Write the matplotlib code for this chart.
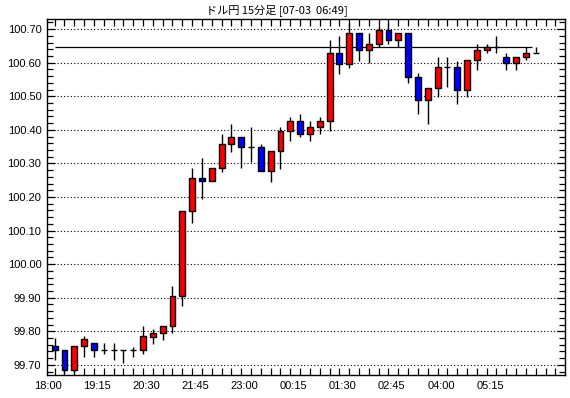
import matplotlib.pyplot as plt
from matplotlib.patches import Rectangle
from matplotlib.ticker import MultipleLocator, FixedLocator

plt.rcParams['font.family'] = ['Liberation Sans', 'Noto Sans CJK JP', 'DejaVu Sans']

# 15-minute candles, 18:00 -> 06:15
opens = [99.757, 99.745, 99.685, 99.756, 99.765, 99.745, 99.745, 99.745, 99.745, 99.744,
         99.784, 99.794, 99.815, 99.904, 100.157, 100.256, 100.247, 100.285, 100.357, 100.378,
         100.348, 100.348, 100.276, 100.336, 100.396, 100.425, 100.387, 100.407, 100.425, 100.628,
         100.597, 100.687, 100.637, 100.657, 100.696, 100.666, 100.687, 100.556, 100.488, 100.526,
         100.586, 100.586, 100.518, 100.607, 100.637, 100.648, 100.616, 100.598, 100.616, 100.628]
highs = [99.780, 99.745, 99.755, 99.786, 99.765, 99.765, 99.765, 99.745, 99.754, 99.816,
         99.806, 99.816, 99.935, 100.157, 100.286, 100.316, 100.285, 100.387, 100.417, 100.378,
         100.407, 100.357, 100.336, 100.407, 100.437, 100.447, 100.425, 100.437, 100.667, 100.679,
         100.719, 100.687, 100.687, 100.709, 100.717, 100.687, 100.687, 100.568, 100.526, 100.616,
         100.616, 100.606, 100.607, 100.657, 100.657, 100.679, 100.628, 100.616, 100.648, 100.648]
lows = [99.716, 99.677, 99.677, 99.725, 99.725, 99.734, 99.716, 99.705, 99.724, 99.734,
        99.763, 99.774, 99.795, 99.874, 100.124, 100.195, 100.247, 100.275, 100.335, 100.285,
        100.305, 100.276, 100.245, 100.284, 100.366, 100.378, 100.366, 100.387, 100.396, 100.567,
        100.585, 100.606, 100.598, 100.647, 100.657, 100.647, 100.538, 100.446, 100.416, 100.497,
        100.527, 100.476, 100.498, 100.577, 100.628, 100.628, 100.577, 100.577, 100.607, 100.628]
closes = [99.744, 99.685, 99.755, 99.777, 99.744, 99.745, 99.745, 99.745, 99.745, 99.786,
          99.794, 99.816, 99.904, 100.157, 100.256, 100.247, 100.285, 100.358, 100.378, 100.348,
          100.348, 100.276, 100.336, 100.396, 100.425, 100.387, 100.407, 100.425, 100.628, 100.597,
          100.687, 100.637, 100.657, 100.696, 100.666, 100.687, 100.556, 100.488, 100.526, 100.586,
          100.586, 100.518, 100.607, 100.637, 100.648, 100.648, 100.598, 100.616, 100.628, 100.628]
last_price = 100.646

time_labels = ["18:00", "19:15", "20:30", "21:45", "23:00", "00:15", "01:30", "02:45", "04:00", "05:15"]
label_pos = [0, 5, 10, 15, 20, 25, 30, 35, 40, 45]

fig = plt.figure(figsize=(5.7, 3.98), dpi=100)
ax = fig.add_axes([47 / 570, 1 - 375 / 398, 518 / 570, 356 / 398])

w = 0.6
for i in range(len(opens)):
    o, h, l, c = opens[i], highs[i], lows[i], closes[i]
    ax.vlines(i, l, h, color='black', lw=1.0, zorder=2)
    if abs(c - o) < 1e-6:
        ax.hlines(o, i - w / 2, i + w / 2, color='black', lw=1.0, zorder=3)
    else:
        col = 'red' if c > o else 'blue'
        ax.add_patch(Rectangle((i - w / 2, min(o, c)), w, abs(c - o),
                               facecolor=col, edgecolor='black', lw=1.0, zorder=3))

# current price line
ax.hlines(last_price, 0, 48.65, color='black', lw=0.9, zorder=1)

ax.set_xlim(-0.78, 51.98)
ax.set_ylim(99.670, 100.730)

ax.yaxis.set_major_locator(MultipleLocator(0.1))
ax.yaxis.set_minor_locator(MultipleLocator(0.02))
ax.yaxis.set_major_formatter(lambda v, p: f"{v:.2f}")
ax.grid(axis='y', which='major', color='black', linestyle=(0, (1, 2)), lw=0.8)

ax.xaxis.set_major_locator(FixedLocator([p - 0.65 for p in label_pos]))
ax.set_xticklabels(time_labels)
ax.xaxis.set_minor_locator(MultipleLocator(1))

ax.tick_params(axis='x', which='major', length=0, labelsize=8, pad=4)
ax.tick_params(axis='x', which='minor', direction='in', length=5, top=True, bottom=True, width=0.9)
ax.tick_params(axis='y', which='both', direction='in', left=True, right=True, width=0.9)
ax.tick_params(axis='y', which='major', length=6, labelsize=8, pad=4)
ax.tick_params(axis='y', which='minor', length=4)

for s in ax.spines.values():
    s.set_linewidth(1.0)

fig.text(277 / 570, 1 - 10 / 398, "ドル円 15分足 [07-03  06:49]", ha='center', va='center',
         fontsize=8, family=['Noto Sans CJK JP', 'DejaVu Sans'])

fig.savefig("out.png", dpi=100, facecolor='white')
